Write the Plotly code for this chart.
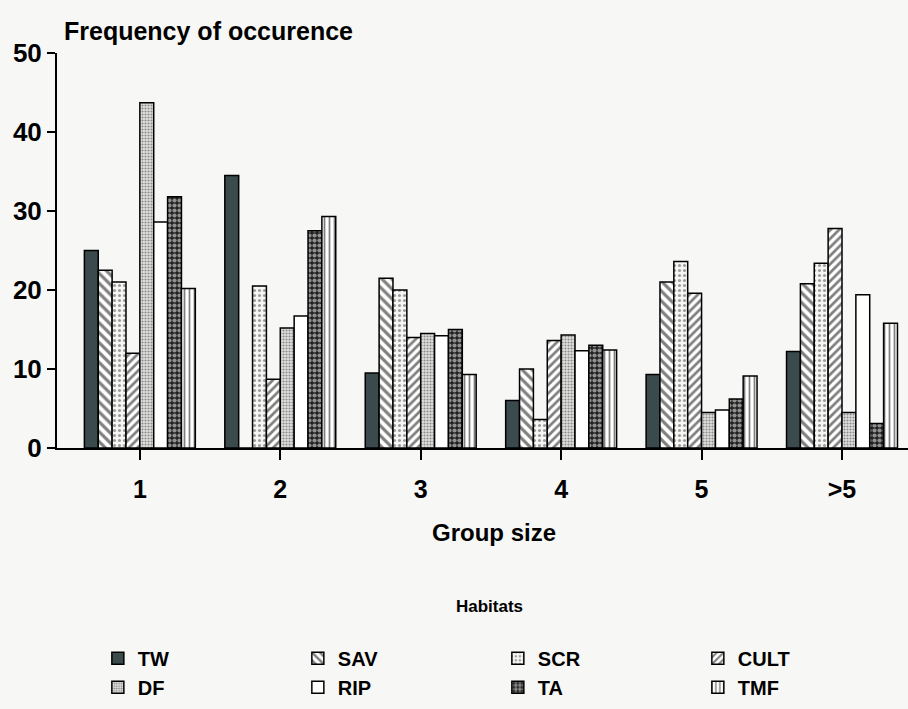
import plotly.graph_objects as go

groups = ["1", "2", "3", "4", "5", ">5"]
positions = [0, 1, 2, 3, 4, 5]

TW = [25, 34.5, 9.5, 6, 9.3, 12.2]
SAV = [22.5, 0, 21.5, 10, 21, 20.8]
SCR = [21, 20.5, 20, 3.6, 23.6, 23.4]
CULT = [12, 8.7, 14, 13.6, 19.6, 27.8]
DF = [43.7, 15.2, 14.5, 14.3, 4.5, 4.5]
RIP = [28.6, 16.7, 14.2, 12.3, 4.8, 19.4]
TA = [31.8, 27.5, 15, 13, 6.2, 3.1]
TMF = [20.2, 29.3, 9.3, 12.4, 9.1, 15.8]

series = [
    ("TW", TW, dict(color="#3b4a4c")),
    ("SAV", SAV, dict(color="white", pattern=dict(shape="\\", fgcolor="black", bgcolor="white", size=7, solidity=0.45))),
    ("SCR", SCR, dict(color="white", pattern=dict(shape=".", fgcolor="#444", bgcolor="#f6f6f4", size=5, solidity=0.3))),
    ("CULT", CULT, dict(color="white", pattern=dict(shape="/", fgcolor="black", bgcolor="white", size=6, solidity=0.45))),
    ("DF", DF, dict(color="white", pattern=dict(shape=".", fgcolor="#333", bgcolor="#e0e0de", size=3, solidity=0.4))),
    ("RIP", RIP, dict(color="white")),
    ("TA", TA, dict(color="white", pattern=dict(shape=".", fgcolor="white", bgcolor="#222", size=5, solidity=0.55))),
    ("TMF", TMF, dict(color="white", pattern=dict(shape="|", fgcolor="black", bgcolor="white", size=5, solidity=0.35))),
]

BG = "#f7f7f5"
FONT = "Liberation Sans"

fig = go.Figure()
for name, vals, mk in series:
    mk = dict(mk)
    mk["line"] = dict(color="black", width=1.5)
    fig.add_trace(go.Bar(name=name, x=positions, y=vals, marker=mk))

fig.update_layout(
    width=908, height=709,
    margin=dict(l=57, r=0, t=53, b=261),
    paper_bgcolor=BG, plot_bgcolor=BG,
    barmode="group", bargap=0.21, bargroupgap=0,
    font=dict(family=FONT, color="black"),
    xaxis=dict(
        range=[-0.59, 5.47], tickvals=positions, ticktext=groups,
        showline=True, linecolor="black", linewidth=2,
        ticks="outside", ticklen=10, tickwidth=1.5, tickcolor="black",
        ticklabelstandoff=8,
        tickfont=dict(size=25, family=FONT, weight="bold"),
        showgrid=False, zeroline=False,
    ),
    yaxis=dict(
        range=[0, 50], tickvals=[0, 10, 20, 30, 40, 50],
        showline=True, linecolor="black", linewidth=2,
        ticks="outside", ticklen=8, tickwidth=1.5, tickcolor="black",
        tickfont=dict(size=26, family=FONT, weight="bold"),
        showgrid=False, zeroline=False,
    ),
    legend=dict(
        orientation="h", x=0.048, xanchor="left", y=-0.483, yanchor="top",
        bgcolor="rgba(0,0,0,0)",
        entrywidth=155, entrywidthmode="pixels",
        font=dict(size=20, family=FONT, weight="bold"),
        traceorder="normal",
    ),
    annotations=[
        dict(text="Frequency of occurence", xref="paper", yref="paper",
             x=0.006, y=1.056, xanchor="left", yanchor="middle", showarrow=False,
             font=dict(size=25, family=FONT, weight="bold")),
        dict(text="Group size", xref="paper", yref="paper",
             x=0.514, y=-0.215, xanchor="center", yanchor="middle", showarrow=False,
             font=dict(size=24, family=FONT, weight="bold")),
        dict(text="Habitats", xref="paper", yref="paper",
             x=0.508, y=-0.40, xanchor="center", yanchor="middle", showarrow=False,
             font=dict(size=17, family=FONT, weight="bold")),
    ],
)

fig.write_html("out.html", config={"displayModeBar": False},
               post_script="document.body.style.margin='0px';")
